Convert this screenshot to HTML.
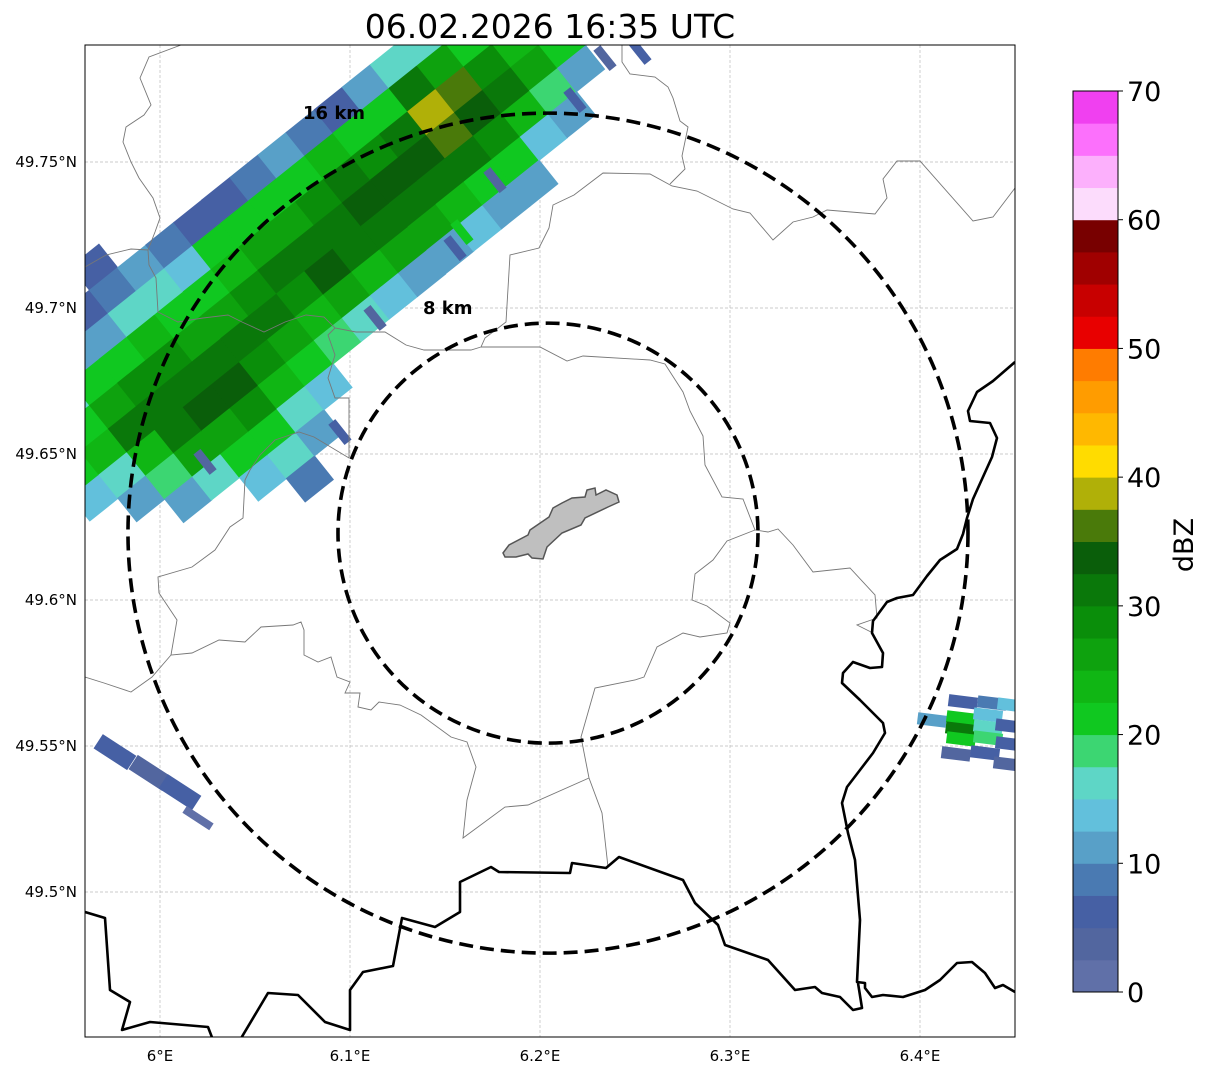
<!DOCTYPE html>
<html><head><meta charset="utf-8"><style>
html,body{margin:0;padding:0;background:#fff;}
svg text{font-family:"DejaVu Sans","Liberation Sans",sans-serif;}
</style></head><body>
<svg id="chart" width="1207" height="1073" viewBox="0 0 1207 1073" xmlns="http://www.w3.org/2000/svg">
<defs><clipPath id="mapclip"><rect x="85" y="45" width="930" height="992"/></clipPath></defs>
<rect x="0" y="0" width="1207" height="1073" fill="#fff"/>
<text x="550" y="38" font-size="33" text-anchor="middle" fill="#000">06.02.2026 16:35 UTC</text>
<g id="grid"></g>
<g clip-path="url(#mapclip)">
<g id="echoes"></g>
<g id="borders" fill="none">
<polyline stroke="#777" stroke-width="0.9" points="622,45 622,62 630,74 655,77 668,87 673,98 680,121 688,127 682,156 685,169 670,184"/>
<polyline stroke="#777" stroke-width="0.9" points="481,347 485,338 506,322 510,255 539,248 549,228 553,205 574,195 603,173 650,174 672,186 697,191 733,209 750,213 773,240 793,222 813,217 827,210 875,214 887,198 883,179 897,161 920,161 973,221 993,217 1015,188"/>
<polyline stroke="#777" stroke-width="0.9" points="481,347 540,347 567,361 583,356 650,360 665,364 683,392 690,411 703,436 705,465 722,497 743,499 755,530 768,532 778,529 793,545 813,572 850,568 875,595 877,618 857,625 873,633"/>
<polyline stroke="#777" stroke-width="0.9" points="755,530 727,541 713,560 695,574 692,600 707,606 730,623 727,633 700,637 683,633 657,647 644,677 635,680 595,688 581,737 589,778 602,813 608,867"/>
<polyline stroke="#777" stroke-width="0.9" points="589,778 528,805 505,807 463,838 467,800 476,767 467,742 451,737 421,715 400,705 379,702 371,710 358,707 360,693 345,693 350,682 337,677 331,657 318,662 304,655 304,630 301,622 293,625 261,627 245,642 219,640 192,653 171,655 152,677 131,692 104,683 85,677"/>
<polyline stroke="#777" stroke-width="0.9" points="171,655 177,620 159,593 158,577 192,567 215,550 230,527 243,518 245,480 250,470 260,455 275,440 299,432 314,437 349,458 349,398 335,398 328,378 335,355 328,335 335,328"/>
<polyline stroke="#777" stroke-width="0.9" points="181,45 149,57 140,78 151,105 144,115 126,127 123,142 131,162 139,178 153,198 160,218 155,232 148,250 131,249 106,255 85,267"/>
<polyline stroke="#777" stroke-width="0.9" points="148,250 149,265 156,278 158,312 178,322 203,318 228,315 242,322 264,332 285,322 306,315 324,317 335,328 356,332 385,332 406,345 424,350 471,350 481,347"/>
<polyline stroke="#000" stroke-width="2.6" stroke-linejoin="round" points="1015,362 993,381 977,392 968,411 970,421 990,423 997,438 992,457 973,499 967,518 963,534 957,549 940,560 927,576 913,595 897,598 887,602 873,621 872,633 883,653 882,667 870,668 853,662 843,673 842,683 860,700 883,723 885,733 873,753 860,770 847,787 842,803 848,833 855,860 860,920 857,982 865,983 865,988 872,997 883,995 903,997 925,990 940,980 957,963 972,962 985,973 995,988 1003,985 1015,992"/>
<polyline stroke="#000" stroke-width="2.6" stroke-linejoin="round" points="858,983 862,1008 853,1010 840,997 822,993 815,987 795,990 768,960 725,945 718,925 695,903 683,880 619,857 606,868 572,863 570,873 499,872 491,867 460,882 460,912 435,927 402,918 393,966 363,972 350,990 350,1030 325,1022 298,995 268,993 240,1040"/>
<polyline stroke="#000" stroke-width="2.6" stroke-linejoin="round" points="85,912 105,918 110,990 130,1002 122,1030 150,1022 208,1027 213,1040"/>
<polygon fill="#bfbfbf" stroke="#555" stroke-width="1.5" points="503,553 509,545 528,535 530,530 549,517 553,508 562,503 572,498 585,497 587,490 595,488 596,495 606,490 617,495 619,502 608,507 585,518 581,525 562,533 547,547 543,559 532,558 528,554 516,557 505,557"/>
</g>
<g id="rings"></g>
</g>
<rect x="85" y="45" width="930" height="992" fill="none" stroke="#000" stroke-width="1"/>
<text x="303" y="119" font-size="18" font-weight="bold">16 km</text>
<text x="423" y="314" font-size="18" font-weight="bold">8 km</text>
<g id="axes"></g>
<g id="colorbar"></g>
<text x="0" y="0" font-size="27" text-anchor="middle" transform="translate(1193,545) rotate(-90)">dBZ</text>
</svg>
<script>
// ---- data ----
const lonTicks = [6.0, 6.1, 6.2, 6.3, 6.4];
const lonTickLabels = ["6°E", "6.1°E", "6.2°E", "6.3°E", "6.4°E"];
const latTicks = [49.75, 49.70, 49.65, 49.60, 49.55, 49.50];
const latTickLabels = ["49.75°N", "49.7°N", "49.65°N", "49.6°N", "49.55°N", "49.5°N"];
const radarLon = [6.2042];
const radarLat = [49.6229];
const ringKm = [16, 8];
const cbarTicks = [0, 10, 20, 30, 40, 50, 60, 70];
const levelColors = ["#6070a8","#52669f","#4660a4","#4a7ab2","#58a0c8","#62c0dc","#5ed6c6","#3cd672","#10c820","#10b614","#0ea20e","#0a8e0a","#0a780a","#0a5e0a","#4a7a0a","#b0b008","#ffdc00","#ffb800","#ff9c00","#ff7c00","#e80000","#c80000","#a00000","#780000","#fcdcfc","#fcb0fc","#fc70fc","#f040f0"];
const rowLon = [5.9359,5.9507,5.9655,5.9802,5.9950,6.0098,6.0246,6.0394,6.0541,6.0689,6.0837,6.0985,6.1133,6.1280,6.1428,6.1576,6.1724,6.1872,6.2019];
const rowLat = [49.6590,49.6668,49.6745,49.6822,49.6899,49.6976,49.7054,49.7131,49.7208,49.7285,49.7362,49.7439,49.7517,49.7594,49.7671,49.7748,49.7825,49.7903,49.7980];
const n = null;
const bandDbz = [
 [n,n,5,12,17,22,14,n,n,n,n],
 [n,n,8,15,20,24,17,12,n,n,n],
 [n,n,10,20,26,30,24,18,12,n,n],
 [n,7,12,22,28,32,30,25,17,n,n],
 [6,8,15,24,28,31,33,27,20,14,n],
 [n,10,16,22,27,30,33,28,22,15,8],
 [n,8,14,20,26,30,28,24,17,10,n],
 [n,6,20,24,28,31,26,20,14,n,n],
 [n,7,22,26,30,28,24,18,n,n,n],
 [n,8,20,26,31,33,27,15,n,n,n],
 [n,12,22,28,32,30,24,14,n,n,n],
 [n,8,24,30,33,31,26,12,n,n,n],
 [n,6,22,29,34,32,25,10,n,n,n],
 [n,10,20,32,34,30,24,14,n,n,n],
 [n,15,30,38,36,30,22,12,n,n,n],
 [n,17,25,36,33,28,20,10,n,n,n],
 [n,15,22,28,30,24,14,n,n,n,n],
 [n,12,20,24,26,18,10,n,n,n,n],
 [n,n,n,15,20,12,n,n,n,n,n]
];
const tailLon = [6.1132,6.0947,6.0237,6.1553,6.1589,6.1763,6.2184,6.2342,6.2526];
const tailLat = [49.6966,49.6575,49.6473,49.7205,49.7260,49.7438,49.7712,49.7856,49.7877];
const tailDbz = [3,5,3,5,20,3,5,3,5];
const westLon = [5.9763,5.9947,6.0105,6.0200];
const westLat = [49.5479,49.5408,49.5342,49.5253];
const westDbz = [7,3,6,2];
const eastLon = [6.4226,6.4379,6.4484,6.4063,6.4216,6.4211,6.4216,6.4358,6.4358,6.4358,6.4474,6.4474,6.4189,6.4342,6.4463];
const eastLat = [49.5651,49.5647,49.5640,49.5589,49.5596,49.5558,49.5524,49.5606,49.5565,49.5527,49.5568,49.5507,49.5473,49.5476,49.5438];
const eastDbz = [6,9,14,11,22,31,22,13,16,18,6,5,4,6,4];

// ---- scales ----
const NS = "http://www.w3.org/2000/svg";
function xScale(lon){ return 160 + (lon - 6.0) * 1900; }
function yScale(lat){ return 162 + (49.75 - lat) * 2920; }
const pxPerKm = 26.25;
function colorFor(d){ let i = Math.floor(d / 2.5); if(i<0)i=0; if(i>27)i=27; return levelColors[i]; }
function mk(tag, attrs, parent){ const e = document.createElementNS(NS, tag); for(const k in attrs) e.setAttribute(k, attrs[k]); parent.appendChild(e); return e; }

const grid = document.getElementById('grid');
const axes = document.getElementById('axes');
lonTicks.forEach((v,i)=>{
  const x = xScale(v);
  const g = mk('line',{x1:x,y1:45,x2:x,y2:1037,stroke:'#bbb','stroke-width':0.7,'stroke-dasharray':'3,2'},grid);
  
  
  const t = mk('text',{x:x,y:1061,'font-size':15,'text-anchor':'middle'},axes);
  t.textContent = lonTickLabels[i];
  
  
});
latTicks.forEach((v,i)=>{
  const y = yScale(v);
  const g = mk('line',{x1:85,y1:y,x2:1015,y2:y,stroke:'#bbb','stroke-width':0.7,'stroke-dasharray':'3,2'},grid);
  
  
  const t = mk('text',{x:77,y:y+5,'font-size':15,'text-anchor':'end'},axes);
  t.textContent = latTickLabels[i];
  
  
});

const echoes = document.getElementById('echoes');
const perpOffsets = [-90,-60,-30,0,30,60,90,120,150,180,210];
const ang = -38.66, ca = 0.781, sa = 0.625;
function cell(cx, cy, w, h, a, d, name){
  const r = mk('rect',{x:cx-w/2,y:cy-h/2,width:w,height:h,fill:colorFor(d),transform:`rotate(${a} ${cx} ${cy})`},echoes);
  
  
}
bandDbz.forEach((row,ri)=>{
  const cx0 = xScale(rowLon[ri]), cy0 = yScale(rowLat[ri]);
  row.forEach((d,ci)=>{
    if(d===null) return;
    const p = perpOffsets[ci];
    cell(cx0 + p*sa, cy0 + p*ca, 37, 31, ang, d, 'echo-cell');
  });
});
tailDbz.forEach((d,i)=>{ cell(xScale(tailLon[i]), yScale(tailLat[i]), 9, 26, ang, d, 'echo-tail'); });
westDbz.forEach((d,i)=>{ cell(xScale(westLon[i]), yScale(westLat[i]), i===3?32:40, i===3?8:17, 33, d, 'echo-cell-west'); });
eastDbz.forEach((d,i)=>{ cell(xScale(eastLon[i]), yScale(eastLat[i]), 29, 12, 7, d, 'echo-cell-east'); });

const rings = document.getElementById('rings');
ringKm.forEach(km=>{
  const c = mk('circle',{cx:xScale(radarLon[0]),cy:yScale(radarLat[0]),r:km*pxPerKm,fill:'none',stroke:'#000','stroke-width':3.6,'stroke-dasharray':'14,7'},rings);
  
  
});

const cb = document.getElementById('colorbar');
const cbTop = 91, cbBot = 992, cbX = 1073, cbW = 45;
function cbY(v){ return cbBot - (v/70)*(cbBot-cbTop); }
levelColors.forEach((c,i)=>{
  const y1 = cbY((i+1)*2.5), y0 = cbY(i*2.5);
  const r = mk('rect',{x:cbX,y:y1,width:cbW,height:y0-y1+0.5,fill:c},cb);
  
  
});
const fr = mk('rect',{x:cbX,y:cbTop,width:cbW,height:cbBot-cbTop,fill:'none',stroke:'#000','stroke-width':1},cb);


cbarTicks.forEach(v=>{
  const y = cbY(v);
  const tk = mk('line',{x1:cbX+cbW,y1:y,x2:cbX+cbW+5,y2:y,stroke:'#000','stroke-width':1},cb);
  
  
  const t = mk('text',{x:cbX+cbW+9,y:y+10,'font-size':27},cb);
  t.textContent = String(v);
  
  
});
</script>
</body></html>
